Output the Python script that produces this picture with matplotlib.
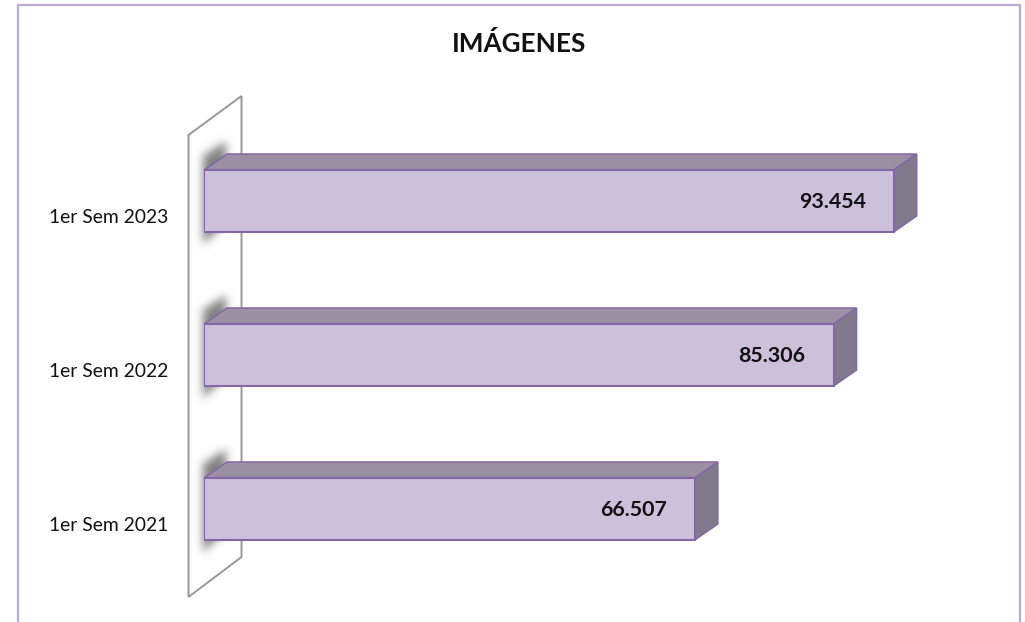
#!/usr/bin/env python3
"""Barras horizontales con efecto 3D: IMÁGENES por semestre"""

import numpy as np
import matplotlib
matplotlib.use('Agg')
import matplotlib.pyplot as plt
from matplotlib.patches import Polygon
from matplotlib.path import Path
from matplotlib.transforms import ScaledTranslation

plt.rcParams['font.family'] = ['Lato', 'DejaVu Sans']

# Datos
categories = ['1er Sem 2021', '1er Sem 2022', '1er Sem 2023']
values = [66507, 85306, 93454]
value_labels = ['66.507', '85.306', '93.454']

W, H = 1025, 622
FRONT = '#CDC0DB'
TOP = '#9A8FA3'
SIDE = '#807A8C'
EDGE = '#8467A6'
FRAME = '#BBA9D3'
WALL = '#989898'

# Profundidad del efecto 3D en píxeles
DEPTH_X, DEPTH_Y = 23, 16
BAR_H = 62 / 154

fig = plt.figure(figsize=(W / 100, H / 100), dpi=100, facecolor='white')

# Capa de fondo en píxeles: marco, pared y sombras
bg = fig.add_axes([0, 0, 1, 1], zorder=0)
bg.set_xlim(0, W)
bg.set_ylim(H, 0)
bg.axis('off')

bg.plot([18, 18, 1020, 1020], [H, 5, 5, H], color=FRAME, lw=1.6, solid_joinstyle='miter')
bg.add_patch(Polygon([(188.5, 135), (241.5, 96), (241.5, 557), (188.5, 597)], closed=True,
                     facecolor='white', edgecolor=WALL, lw=1.4, zorder=2))

# Ejes principales, alineados con las barras
ax = fig.add_axes([204 / W, 1 - 586 / H, 738 / W, 462 / H], zorder=2)
ax.patch.set_visible(False)
ax.set_xlim(0, 100000)
ax.set_ylim(-0.5, 2.5)
for spine in ax.spines.values():
    spine.set_visible(False)
ax.set_xticks([])
ax.set_yticks(range(len(categories)))
ax.set_yticklabels(categories, fontsize=13.9, color='#111111')
ax.tick_params(axis='y', length=0, pad=26)
# Las etiquetas quedan más abajo que el centro de la barra
shift = ScaledTranslation(0, -15 / 100, fig.dpi_scale_trans)
for label in ax.get_yticklabels():
    label.set_transform(label.get_transform() + shift)

dx = DEPTH_X / 738 * 100000
dy = DEPTH_Y / 154

# Sombra difuminada sobre la pared
xx, yy = np.meshgrid(np.arange(W), np.arange(H))
pts = np.column_stack([xx.ravel(), yy.ravel()])
mask = np.zeros((H, W))
for i in range(len(categories)):
    cy = H - ax.transData.transform((0, i))[1]
    shape = Path([(203, cy - 46), (225, cy - 60), (225, cy + 20), (203, cy + 42)])
    mask += shape.contains_points(pts).reshape(H, W)
kernel = np.exp(-np.linspace(-12, 12, 25) ** 2 / (2 * 4.5 ** 2))
kernel /= kernel.sum()
mask = np.apply_along_axis(lambda r: np.convolve(r, kernel, mode='same'), 0, mask)
mask = np.apply_along_axis(lambda r: np.convolve(r, kernel, mode='same'), 1, mask)
shadow = np.zeros((H, W, 4))
shadow[..., :3] = 0.38
shadow[..., 3] = mask * 0.8
bg.imshow(shadow, extent=(0, W, H, 0), aspect='auto', zorder=3, interpolation='bilinear')
bg.set_xlim(0, W)
bg.set_ylim(H, 0)

# Barras: cara frontal, superior y lateral
ax.barh(range(len(values)), values, height=BAR_H, color=FRONT, edgecolor=EDGE, linewidth=1.5, zorder=3)
for i, v in enumerate(values):
    y0, y1 = i - BAR_H / 2, i + BAR_H / 2
    ax.add_patch(Polygon([(0, y1), (dx, y1 + dy), (v + dx, y1 + dy), (v, y1)], closed=True,
                         facecolor=TOP, edgecolor=EDGE, lw=1.1, clip_on=False, zorder=2))
    ax.add_patch(Polygon([(v, y0), (v + dx, y0 + dy), (v + dx, y1 + dy), (v, y1)], closed=True,
                         facecolor=SIDE, edgecolor=EDGE, lw=1.1, clip_on=False, zorder=2))
    ax.annotate(value_labels[i], (v, i), xytext=(-28, -1), textcoords='offset pixels',
                ha='right', va='center', fontsize=15.4, fontweight='bold', color='#111111', zorder=5)

fig.text(519 / W, 1 - 43 / H, 'IMÁGENES', ha='center', va='center',
         fontsize=18.8, fontweight='bold', color='#111111')

fig.savefig('out.png', dpi=100, facecolor='white')
